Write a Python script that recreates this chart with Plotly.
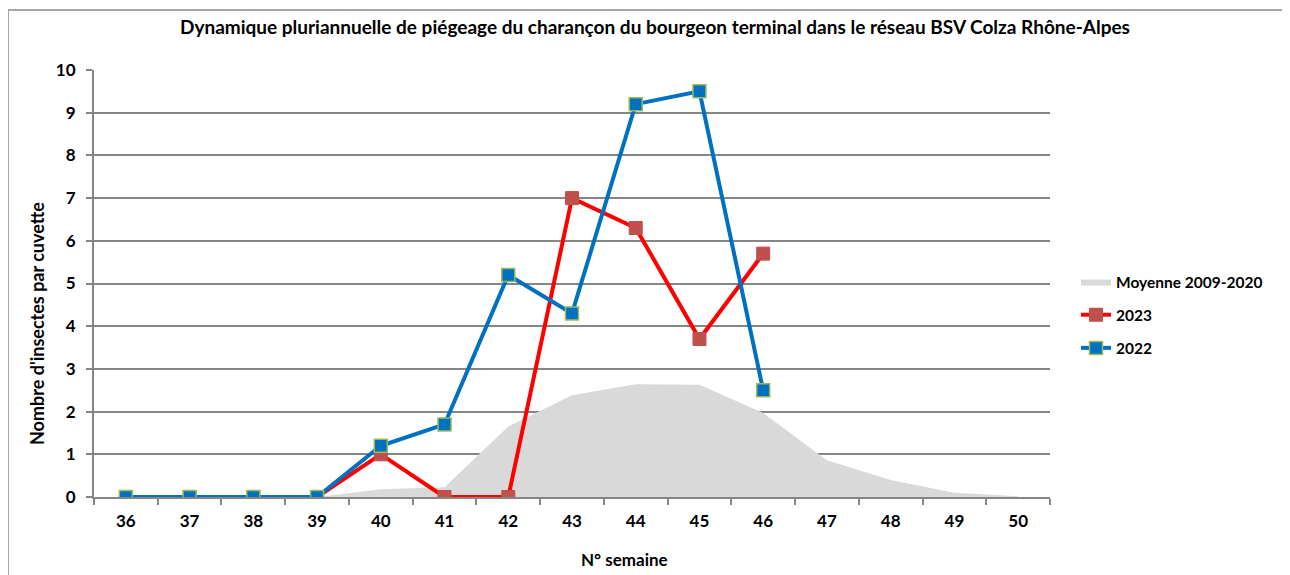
import plotly.graph_objects as go

weeks = ["36", "37", "38", "39", "40", "41", "42", "43", "44", "45", "46", "47", "48", "49", "50"]
moyenne = [0, 0, 0, 0, 0.18, 0.23, 1.65, 2.38, 2.64, 2.63, 1.97, 0.86, 0.40, 0.10, 0.02]
weeks_obs = ["36", "37", "38", "39", "40", "41", "42", "43", "44", "45", "46"]
y2023 = [0, 0, 0, 0, 1.0, 0, 0, 7.0, 6.3, 3.7, 5.7]
y2022 = [0, 0, 0, 0, 1.2, 1.7, 5.2, 4.3, 9.2, 9.5, 2.5]

FONT = "Lato"
OFF = 8  # page body margin
W, H = 1290 - OFF, 575 - OFF
PL, PR, PT, PB = 94, 1050, 70, 497  # plot area in screenshot coords


def px(x):
    return (x - PL) / (PR - PL)


def py(y):
    return (PB - y) / (PB - PT)


fig = go.Figure()
fig.add_trace(go.Scatter(
    x=weeks, y=moyenne, name="<b>Moyenne 2009-2020</b>", mode="lines", legendgroup="a",
    fill="tozeroy", fillcolor="#D9D9D9", line=dict(color="#D9D9D9", width=0),
))
fig.add_trace(go.Scatter(
    x=weeks_obs, y=y2023, name="<b>2023</b>", mode="lines+markers", legendgroup="b",
    line=dict(color="#FF0000", width=4),
    marker=dict(symbol="square", size=13, color="#C0504D", line=dict(color="#C0504D", width=1)),
))
fig.add_trace(go.Scatter(
    x=weeks_obs, y=y2022, name="<b>2022</b>", mode="lines+markers", legendgroup="c",
    line=dict(color="#0070C0", width=4),
    marker=dict(symbol="square", size=13, color="#0070C0", line=dict(color="#9BBB59", width=1.5)),
))

fig.update_layout(
    width=W, height=H,
    margin=dict(l=PL - OFF, r=W - (PR - OFF), t=PT - OFF, b=H - (PB - OFF)),
    paper_bgcolor="white", plot_bgcolor="white",
    font=dict(family=FONT, size=17, color="black"),
    title=dict(
        text="<b>Dynamique pluriannuelle de piégeage du charançon du bourgeon terminal dans le réseau BSV Colza Rhône-Alpes</b>",
        x=(655 - OFF) / W, xanchor="center", y=1 - (27 - OFF) / H, yanchor="middle",
        font=dict(family=FONT, size=19, color="black"),
    ),
    xaxis=dict(
        type="category", range=[-0.5, 14.5], tickson="boundaries",
        ticks="outside", ticklen=6, tickcolor="#868686", tickwidth=1.5,
        showline=True, linecolor="#868686", linewidth=2,
        showgrid=False, tickfont=dict(family=FONT, size=17, color="black"),
        tickprefix="<b>", ticksuffix="</b>", ticklabelstandoff=8,
    ),
    yaxis=dict(
        range=[0, 10], dtick=1, ticks="outside", ticklen=6, tickcolor="#868686", tickwidth=1.5,
        showline=True, linecolor="#868686", linewidth=2,
        showgrid=True, gridcolor="#868686", gridwidth=2, zeroline=False,
        tickfont=dict(family=FONT, size=17, color="black"),
        tickprefix="<b>", ticksuffix="</b>", ticklabelstandoff=7,
    ),
    legend=dict(
        x=px(1076), y=py(315), xanchor="left", yanchor="middle",
        font=dict(family=FONT, size=15.5, color="black"),
        traceorder="grouped", tracegroupgap=10, itemwidth=30,
    ),
    showlegend=True,
)

fig.add_annotation(
    text="<b>N° semaine</b>", xref="paper", yref="paper",
    x=px(624), y=py(559), showarrow=False,
    xanchor="center", yanchor="middle", font=dict(family=FONT, size=17, color="black"),
)
fig.add_annotation(
    text="<b>Nombre d'insectes par cuvette</b>", xref="paper", yref="paper",
    x=px(37), y=py(324), showarrow=False, textangle=-90,
    xanchor="center", yanchor="middle", font=dict(family=FONT, size=18, color="black"),
)
fig.add_shape(
    type="rect", xref="paper", yref="paper",
    x0=px(OFF), x1=px(1310), y0=py(600), y1=py(10),
    line=dict(color="#A6A6A6", width=2), fillcolor="rgba(0,0,0,0)", layer="below",
)

fig.write_html("out.html")
